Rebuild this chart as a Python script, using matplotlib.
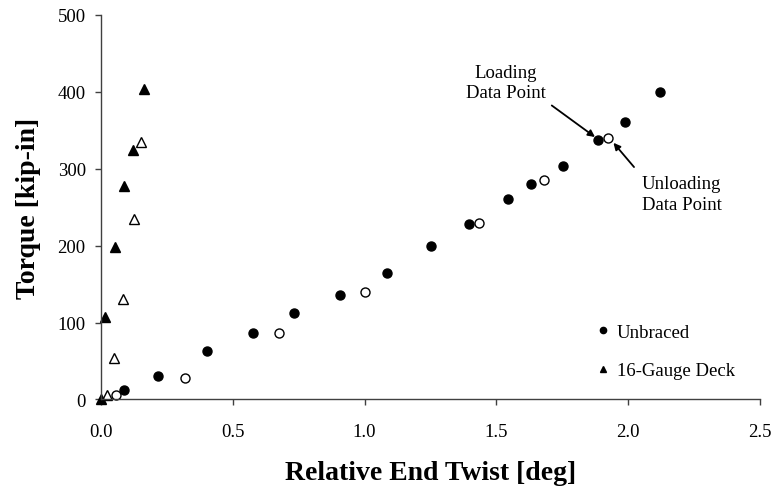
import matplotlib
matplotlib.use("Agg")
import matplotlib.pyplot as plt
from matplotlib.lines import Line2D

plt.rcParams['font.family'] = ['Liberation Serif', 'DejaVu Serif']

# Unbraced girder - loading (filled) and unloading (open)
unbraced_load_x = [0.088, 0.216, 0.403, 0.577, 0.732, 0.906, 1.084, 1.251, 1.395,
                   1.543, 1.631, 1.754, 1.884, 1.989, 2.122]
unbraced_load_y = [12.7, 30.5, 63, 86.8, 112.3, 135.7, 164.3, 199, 228,
                   260.8, 279.9, 303.6, 336.6, 360.4, 399]
unbraced_unload_x = [0.057, 0.320, 0.676, 1.000, 1.435, 1.681, 1.923]
unbraced_unload_y = [5.8, 27.5, 86.4, 139.2, 229.2, 285, 340]

# 16-gauge deck - loading (filled) and unloading (open)
deck_load_x = [0.0, 0.015, 0.053, 0.086, 0.123, 0.162]
deck_load_y = [0, 106.8, 197.7, 277.7, 324.4, 403.2]
deck_unload_x = [0.022, 0.048, 0.082, 0.126, 0.152]
deck_unload_y = [6.2, 54.3, 130, 235, 334]

fig = plt.figure(figsize=(7.72, 4.89), dpi=100)
ax = fig.add_axes([0.1308, 0.181, 0.8537, 0.787])

ms = 6.5
ax.plot(unbraced_load_x, unbraced_load_y, 'o', color='black', ms=ms, clip_on=False)
ax.plot(unbraced_unload_x, unbraced_unload_y, 'o', mfc='white', mec='black',
        mew=1.0, ms=ms, clip_on=False)
ax.plot(deck_unload_x, deck_unload_y, '^', mfc='white', mec='black',
        mew=1.0, ms=ms, clip_on=False)
ax.plot(deck_load_x, deck_load_y, '^', color='black', ms=ms, clip_on=False)

ax.set_xlim(0, 2.5)
ax.set_ylim(0, 500)
ax.set_xticks([0, 0.5, 1.0, 1.5, 2.0, 2.5])
ax.set_xticklabels(['0.0', '0.5', '1.0', '1.5', '2.0', '2.5'])
ax.set_yticks([0, 100, 200, 300, 400, 500])

for side in ['top', 'right']:
    ax.spines[side].set_visible(False)
for side in ['left', 'bottom']:
    ax.spines[side].set_color('#404040')
    ax.spines[side].set_linewidth(1.0)
ax.tick_params(axis='both', direction='out', length=4, width=1.0,
               color='#404040', labelsize=13.5)
ax.tick_params(axis='x', pad=13)
ax.tick_params(axis='y', pad=7)

ax.set_xlabel('Relative End Twist [deg]', fontsize=20, fontweight='bold', labelpad=14)
ax.set_ylabel('Torque [kip-in]', fontsize=20, fontweight='bold', labelpad=12)

# annotations
ax.text(1.536, 411.6, 'Loading\nData Point', ha='center', va='center',
        fontsize=13.5, linespacing=1.25)
ax.annotate('', xy=(1.874, 341), xytext=(1.71, 382),
            arrowprops=dict(arrowstyle='-|>', color='black', lw=1.3,
                            mutation_scale=10, shrinkA=0, shrinkB=0))
ax.text(2.052, 267, 'Unloading\nData Point', ha='left', va='center',
        fontsize=13.5, linespacing=1.25)
ax.annotate('', xy=(1.944, 333.5), xytext=(2.022, 302),
            arrowprops=dict(arrowstyle='-|>', color='black', lw=1.3,
                            mutation_scale=10, shrinkA=0, shrinkB=0))

handles = [Line2D([], [], ls='', marker='o', color='black', ms=4.5),
           Line2D([], [], ls='', marker='^', color='black', ms=4.5)]
ax.legend(handles, ['Unbraced', '16-Gauge Deck'], loc='center left',
          bbox_to_anchor=(0.7546, 0.1247), frameon=False, fontsize=13.5,
          handlelength=0.5, handletextpad=0.5, labelspacing=1.15, borderpad=0,
          borderaxespad=0)

fig.savefig('out.png', dpi=100)
